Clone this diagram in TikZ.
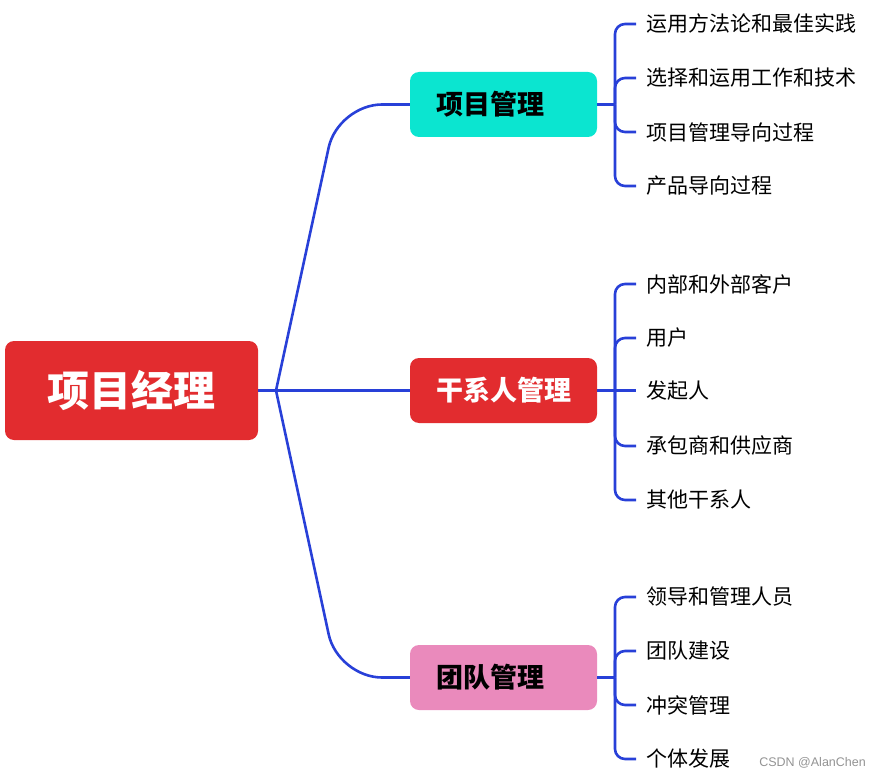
\documentclass[tikz,border=0pt]{standalone}
\usepackage{fontspec}
\setmainfont{Noto Sans CJK SC}
\newfontfamily\wmfont{Liberation Sans}
\definecolor{linec}{HTML}{2840D8}
\definecolor{rootred}{HTML}{E22C2F}
\definecolor{cyanb}{HTML}{0BE5D0}
\definecolor{pinkb}{HTML}{EA8ABC}
\begin{document}
\begin{tikzpicture}[x=1pt,y=-1pt,
  rootbox/.style={fill=rootred, rounded corners=9pt, minimum width=253pt, minimum height=99pt, text=white, font=\fontsize{42}{46}\selectfont\bfseries},
  branchbox/.style={rounded corners=9pt, minimum width=187pt, minimum height=65pt, font=\fontsize{27}{31}\selectfont\bfseries},
  leaf/.style={anchor=west, inner xsep=10pt, inner ysep=0pt, font=\fontsize{21}{25}\selectfont, text=black},
  conn/.style={draw=linec, line width=2.6pt},
  br/.style={conn, rounded corners=10pt},
  main/.style={conn, rounded corners=44pt}]
\useasboundingbox (0,0) rectangle (880,778);
\node[rootbox] (r) at (131.5,390.5) {项目经理};
\node[branchbox, fill=cyanb, text=black] (b1) at (503.5,104.5) {\hspace*{-26pt}项目管理};
\node[branchbox, fill=rootred, text=white] (b2) at (503.5,390.5) {干系人管理};
\node[branchbox, fill=pinkb, text=black] (b3) at (503.5,677.5) {\hspace*{-26pt}团队管理};
\coordinate (hub) at (276,390.5);
\coordinate (c1) at (338,104.5);
\coordinate (c3) at (338,677.5);
\draw[conn] (r.east) -- (hub) -- (b2.west);
\draw[main] (hub) -- (c1) -- (b1.west);
\draw[main] (hub) -- (c3) -- (b3.west);
% leaves branch 1
\node[leaf] (l11) at (636,24) {运用方法论和最佳实践};
\node[leaf] (l12) at (636,78) {选择和运用工作和技术};
\node[leaf] (l13) at (636,132) {项目管理导向过程};
\node[leaf] (l14) at (636,186) {产品导向过程};
\coordinate (j1) at (615,104.5);
\draw[conn] (b1.east) -- (j1);
\foreach \l in {l11,l12,l13,l14} {\draw[br] (j1) -- (j1 |- \l.west) -- (\l.west);}
% leaves branch 2
\node[leaf] (l21) at (636,284) {内部和外部客户};
\node[leaf] (l22) at (636,338) {用户};
\node[leaf] (l23) at (636,390.5) {发起人};
\node[leaf] (l24) at (636,446) {承包商和供应商};
\node[leaf] (l25) at (636,500) {其他干系人};
\coordinate (j2) at (615,390.5);
\draw[conn] (b2.east) -- (j2);
\foreach \l in {l21,l22,l24,l25} {\draw[br] (j2) -- (j2 |- \l.west) -- (\l.west);}
\draw[conn] (j2) -- (l23.west);
% leaves branch 3
\node[leaf] (l31) at (636,597) {领导和管理人员};
\node[leaf] (l32) at (636,651) {团队建设};
\node[leaf] (l33) at (636,705) {冲突管理};
\node[leaf] (l34) at (636,759) {个体发展};
\coordinate (j3) at (615,677.5);
\draw[conn] (b3.east) -- (j3);
\foreach \l in {l31,l32,l33,l34} {\draw[br] (j3) -- (j3 |- \l.west) -- (\l.west);}
\node[anchor=east, inner sep=0pt, text=gray!85, font=\wmfont\fontsize{12.5}{14}\selectfont] (wm) at (866,763) {CSDN @AlanChen};
\end{tikzpicture}
\end{document}
